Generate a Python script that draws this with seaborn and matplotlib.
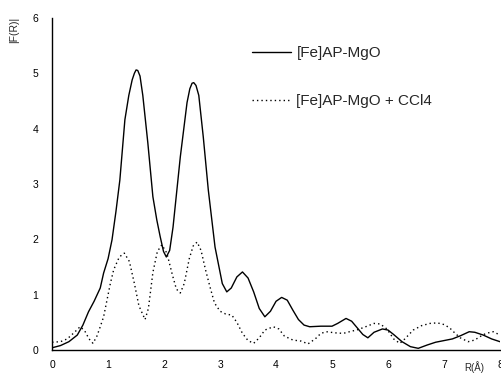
import numpy as np
import pandas as pd
import matplotlib
matplotlib.use("Agg")
import matplotlib.pyplot as plt
import seaborn as sns

# Data
r_solid = [0.0, 0.15, 0.3, 0.45, 0.55, 0.65, 0.75, 0.86, 0.92, 1.0, 1.07, 1.14, 1.21, 1.3, 1.37, 1.43,
           1.47, 1.5, 1.53, 1.57, 1.62, 1.71, 1.8, 1.87, 1.93, 1.99, 2.04, 2.1, 2.16, 2.29, 2.41, 2.46,
           2.5, 2.53, 2.57, 2.62,
           2.7, 2.79, 2.91, 3.04, 3.12, 3.2, 3.3, 3.4, 3.5, 3.6, 3.7, 3.8, 3.9, 4.0, 4.1, 4.2, 4.3,
           4.4, 4.5, 4.6, 4.8, 5.0, 5.1, 5.25, 5.35, 5.45, 5.55, 5.64, 5.75, 5.9, 6.0, 6.1, 6.25,
           6.4, 6.54, 6.7, 6.85, 7.0, 7.15, 7.3, 7.45, 7.55, 7.7, 7.85, 8.0]
f_solid = [0.04, 0.08, 0.15, 0.27, 0.45, 0.69, 0.88, 1.12, 1.39, 1.65, 1.99, 2.5, 3.07, 4.16, 4.6, 4.88,
           5.0, 5.06, 5.05, 4.95, 4.6, 3.74, 2.77, 2.35, 2.05, 1.78, 1.68, 1.8, 2.22, 3.49, 4.47, 4.72,
           4.82, 4.83, 4.78, 4.6,
           3.85, 2.89, 1.86, 1.2, 1.05, 1.12, 1.32, 1.41, 1.3, 1.05, 0.75, 0.6, 0.7, 0.88, 0.95, 0.9, 0.72,
           0.55, 0.45, 0.42, 0.43, 0.43, 0.48, 0.57, 0.52, 0.4, 0.28, 0.22, 0.32, 0.38, 0.36, 0.28, 0.15,
           0.06, 0.03, 0.09, 0.14, 0.17, 0.2, 0.26, 0.33, 0.32, 0.27, 0.2, 0.15]

r_dot = [0.0, 0.15, 0.27, 0.4, 0.5, 0.58, 0.66, 0.73, 0.8, 0.86, 0.92, 1.0, 1.04, 1.1, 1.2, 1.29, 1.38,
         1.47, 1.55, 1.66, 1.72, 1.8, 1.88, 1.96, 2.05, 2.15, 2.22, 2.29, 2.36, 2.45, 2.52, 2.59, 2.66,
         2.74, 2.82, 2.9, 3.0, 3.1, 3.21, 3.3, 3.4, 3.5, 3.6, 3.7, 3.8, 3.95, 4.05, 4.15, 4.3, 4.45,
         4.57, 4.7, 4.8, 4.9, 5.05, 5.2, 5.35, 5.44, 5.6, 5.75, 5.86, 5.98, 6.1, 6.21, 6.3, 6.45, 6.6,
         6.75, 6.88, 7.0, 7.1, 7.2, 7.29, 7.43, 7.55, 7.64, 7.75, 7.88, 8.0]
f_dot = [0.14, 0.15, 0.2, 0.32, 0.42, 0.35, 0.2, 0.12, 0.25, 0.42, 0.6, 1.0, 1.2, 1.45, 1.68, 1.75, 1.6,
         1.2, 0.8, 0.55, 0.75, 1.4, 1.78, 1.9, 1.75, 1.35, 1.1, 1.03, 1.2, 1.65, 1.88, 1.95, 1.8,
         1.45, 1.14, 0.85, 0.7, 0.65, 0.63, 0.5, 0.3, 0.17, 0.12, 0.22, 0.36, 0.42, 0.38, 0.25, 0.18, 0.16,
         0.11, 0.2, 0.3, 0.33, 0.31, 0.3, 0.34, 0.36, 0.42, 0.48, 0.47, 0.38, 0.2, 0.12, 0.2, 0.36, 0.44,
         0.48, 0.49, 0.46, 0.4, 0.3, 0.22, 0.15, 0.18, 0.24, 0.3, 0.33, 0.27]

labels = ["[Fe]AP-MgO", "[Fe]AP-MgO + CCl4"]
x_ticks = [0, 1, 2, 3, 4, 5, 6, 7, 8]
y_ticks = [0, 1, 2, 3, 4, 5, 6]

df = pd.concat([
    pd.DataFrame({"R": r_solid, "F": f_solid, "sample": labels[0]}),
    pd.DataFrame({"R": r_dot, "F": f_dot, "sample": labels[1]}),
])

sns.set_style("white")
plt.rcParams["font.family"] = ["Liberation Sans", "DejaVu Sans"]

fig = plt.figure(figsize=(5.01, 3.73), dpi=100)
ax = fig.add_axes([0.104, 0.0617, 0.894, 0.8903])

sns.lineplot(data=df, x="R", y="F", hue="sample", style="sample",
             palette={labels[0]: "black", labels[1]: "black"},
             dashes={labels[0]: "", labels[1]: (1, 2.2)},
             linewidth=1.0, sort=False, estimator=None, ax=ax)

ax.set_xlim(0, 8)
ax.set_ylim(0, 6)
ax.set_xticks(x_ticks)
ax.set_yticks(y_ticks)
ax.set_xlabel("")
ax.set_ylabel("")
for s in ["top", "right"]:
    ax.spines[s].set_visible(False)
for s in ["left", "bottom"]:
    ax.spines[s].set_color("black")
    ax.spines[s].set_linewidth(1.0)
ax.tick_params(axis="both", direction="in", length=8, width=1, colors="black",
               labelsize=7.5)
ax.tick_params(axis="x", pad=7)
ax.tick_params(axis="y", pad=10)

leg = ax.legend(loc="upper left", bbox_to_anchor=(0.415, 0.957), frameon=False,
                fontsize=11, handlelength=2.6, labelspacing=2.25, handletextpad=0.33)

fig.text(0.028, 0.92, "|F(R)|", rotation=90, fontsize=7.5, ha="center", va="center")
fig.text(0.946, 0.016, "R(Å)", fontsize=7, ha="center", va="center")

fig.savefig("out.png", dpi=100)
